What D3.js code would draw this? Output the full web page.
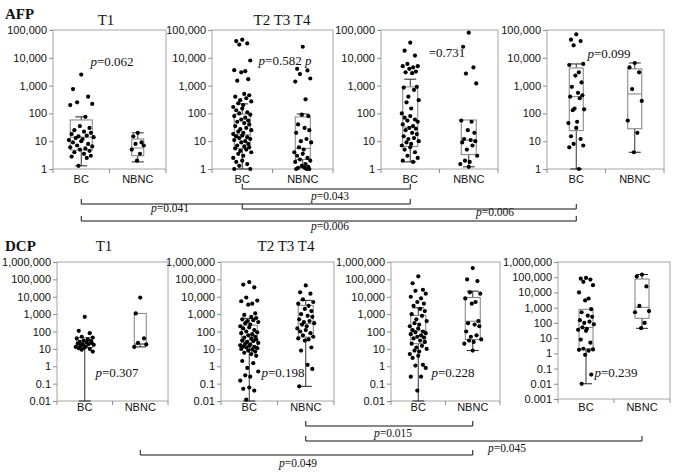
<!DOCTYPE html>
<html>
<head>
<meta charset="utf-8">
<script src="https://cdn.jsdelivr.net/npm/d3@7"></script>
<style>body{margin:0;background:#fff}</style>
</head>
<body>
<div id="chart"></div>
<script>
// ---- data ----
const groups = ["BC", "NBNC"];
const afpTicks = [1, 10, 100, 1000, 10000, 100000];
const dcpTicks = [0.01, 0.1, 1, 10, 100, 1000, 10000, 100000, 1000000];
const dcpTicks4 = [0.001, 0.01, 0.1, 1, 10, 100, 1000, 10000, 100000, 1000000];

// box stats: [whisker low, q1, median, q3, whisker high]
const afp1Points = [
  [2500, 750, 400, 250, 220, 200, 75, 35, 30, 25, 22, 20, 18, 16, 15, 14, 13, 12, 11, 10, 9, 8, 7, 6.5, 6, 5.5, 5, 4.5, 4, 3.5, 3, 2.8, 2.5, 1.3],
  [20, 15, 9, 8, 7, 5, 3.5, 2]
];
const afp1Box = [[1.3, 4.8, 14, 58, 75], [1.8, 3, 5.7, 12, 20]];

const afp2Points = [
  [45000, 40000, 33000, 30000, 8000, 3600, 3300, 3000, 1700, 1500, 500, 450, 400, 350, 300, 270, 230, 200, 170, 150, 130, 110, 100, 90, 80, 70, 60, 55, 50, 45, 40, 35, 30, 27, 25, 22, 20, 18, 16, 15, 14, 13, 12, 11, 10, 9, 8, 7, 6.5, 6, 5.5, 5, 4.5, 4, 3.5, 3, 2.5, 2, 1.8, 1.5, 1.3, 1, 1],
  [25000, 4000, 3500, 2600, 1800, 1400, 320, 90, 80, 40, 30, 25, 20, 12, 10, 9, 6, 5, 4, 3.5, 3, 2.5, 2.2, 2, 1.8, 1.5, 1.3, 1.2, 1.1, 1.1, 1, 1, 1]
];
const afp2Box = [[1, 5.5, 17, 95, 220], [1.1, 2.2, 5.5, 75, 95]];

const afp3Points = [
  [35000, 18000, 12000, 6000, 5000, 5000, 4500, 4000, 3200, 3000, 2800, 900, 850, 700, 400, 300, 250, 150, 100, 80, 70, 60, 55, 50, 40, 35, 30, 28, 25, 20, 18, 15, 13, 12, 10, 9, 8, 7, 6, 5, 4, 3, 2.5, 2, 1.8],
  [80000, 25000, 4500, 2700, 1200, 55, 50, 25, 20, 12, 11, 10, 9, 7, 5, 3, 2, 1.8, 1.5, 1.2]
];
const afp3Box = [[1.8, 6.5, 32, 900, 1700], [1.2, 3.3, 11, 58, 58]];

const afp4Points = [
  [70000, 45000, 40000, 28000, 6000, 5500, 3000, 2300, 1300, 900, 550, 450, 400, 350, 150, 140, 130, 50, 45, 30, 15, 12, 8, 7, 6, 1],
  [6500, 4500, 3000, 750, 280, 55, 20, 4]
];
const afp4Box = [[1, 24, 400, 4300, 6000], [4, 28, 500, 4000, 6500]];

const dcp1Points = [
  [700, 110, 80, 50, 45, 40, 35, 30, 28, 25, 24, 22, 20, 19, 18, 17, 15, 14, 13, 12, 11, 10, 9, 7],
  [9000, 1100, 40, 22, 18, 13]
];
const dcp1Box = [[0.01, 12, 21, 45, 45], [13, 18, 20, 1100, 1100]];

const dcp2Points = [
  [70000, 50000, 35000, 9000, 6000, 5500, 4000, 3500, 1100, 900, 700, 600, 500, 450, 400, 350, 300, 250, 200, 170, 150, 120, 100, 90, 80, 70, 60, 50, 45, 40, 35, 30, 28, 25, 22, 20, 18, 16, 15, 14, 13, 12, 11, 10, 9, 8, 7, 6, 5, 4, 2, 1.5, 0.8, 0.5, 0.3, 0.25, 0.15, 0.06, 0.05, 0.04, 0.012],
  [45000, 18000, 15000, 7000, 5000, 4000, 3000, 2000, 1500, 1000, 800, 700, 500, 400, 350, 300, 250, 200, 150, 120, 100, 80, 60, 50, 40, 35, 30, 12, 8, 1.2, 0.7, 0.07]
];
const dcp2Box = [[0.01, 13, 31, 230, 570], [0.07, 48, 280, 3200, 6200]];

const dcp3Points = [
  [150000, 60000, 25000, 22000, 15000, 10000, 8000, 5000, 4000, 3000, 2000, 1500, 1000, 800, 500, 400, 300, 250, 200, 150, 120, 100, 90, 80, 70, 60, 50, 45, 40, 30, 25, 20, 15, 12, 10, 8, 7, 5, 4, 3, 1.2, 1.1, 0.8, 0.25, 0.25, 0.04],
  [450000, 100000, 80000, 18000, 15000, 8000, 5000, 4000, 400, 300, 250, 200, 100, 60, 50, 35, 30, 25, 20, 8]
];
const dcp3Box = [[0.01, 20, 110, 850, 2300], [8, 35, 390, 9000, 21000]];

const dcp4Points = [
  [90000, 80000, 70000, 50000, 30000, 10000, 4000, 3000, 800, 500, 300, 250, 150, 120, 100, 80, 50, 40, 35, 30, 8, 5, 2, 1.8, 1.7, 1.5, 0.8, 0.04, 0.01],
  [150000, 110000, 25000, 1300, 600, 500, 100, 45]
];
const dcp4Box = [[0.01, 2, 50, 780, 780], [44, 200, 1050, 76000, 150000]];

const afpPanelP = ["p=0.062", "p=0.582 p", "=0.731", "p=0.099"];
const dcpPanelP = ["p=0.307", "p=0.198", "p=0.228", "p=0.239"];
const afpPairP = ["p=0.043", "p=0.041", "p=0.006", "p=0.006"];
const dcpPairP = ["p=0.015", "p=0.045", "p=0.049"];

// ---- layout ----
const W = 677, H = 475;
const serif = "'Liberation Serif','Times New Roman',serif";
const sans = "'Liberation Sans',Arial,sans-serif";
const svg = d3.select("#chart").append("svg").attr("width", W).attr("height", H);

const jitter = [0, -6, 5, -3, 8, -8, 3, -1, 6, -5, 2, 7, -7, 4, -2, 9, -4, 1, -9];

const afpLayout = [
  {x0: 53, x1: 166, y0: 169, y1: 30, bw: [22, 12], px: 112, py: 66},
  {x0: 212, x1: 333, y0: 169, y1: 30, bw: [16, 15], px: 285, py: 65},
  {x0: 381, x1: 498, y0: 169, y1: 30, bw: [15, 15], px: 447, py: 57},
  {x0: 547, x1: 664, y0: 169, y1: 30, bw: [14, 14], px: 609, py: 58}
];
const dcpLayout = [
  {x0: 57, x1: 168, y0: 401, y1: 262, bw: [16, 12], px: 117, py: 377},
  {x0: 221, x1: 334, y0: 401, y1: 262, bw: [16, 15], px: 283, py: 377},
  {x0: 391, x1: 500, y0: 401, y1: 262, bw: [15, 15], px: 453, py: 377},
  {x0: 558, x1: 670, y0: 399, y1: 262, bw: [14, 14], px: 616, py: 377}
];

function pText(sel, s) {
  if (s.startsWith("p")) {
    sel.append("tspan").style("font-style", "italic").text("p");
    s = s.slice(1);
  }
  const i = s.indexOf(" p");
  if (i >= 0) {
    sel.append("tspan").text(s.slice(0, i + 1));
    sel.append("tspan").style("font-style", "italic").text("p");
  } else {
    sel.append("tspan").text(s);
  }
}

function panel(cfg, points, boxes, ticks, pLabel, labelY) {
  const x = d3.scalePoint().domain(groups).range([cfg.x0, cfg.x1]).padding(0.5);
  const y = d3.scaleLog().domain([ticks[0], ticks[ticks.length - 1]]).range([cfg.y0, cfg.y1]);
  const g = svg.append("g");

  g.append("rect")
    .attr("x", cfg.x0).attr("y", cfg.y1)
    .attr("width", cfg.x1 - cfg.x0).attr("height", cfg.y0 - cfg.y1)
    .attr("fill", "none").attr("stroke", "#a6a6a6");

  // y axis
  g.append("g")
    .attr("transform", "translate(" + cfg.x0 + ",0)")
    .call(d3.axisLeft(y).tickValues(ticks).tickFormat(d3.format(",")).tickSize(4).tickPadding(2))
    .call(a => a.select(".domain").remove())
    .call(a => a.selectAll("line").attr("stroke", "#8c8c8c"))
    .call(a => a.selectAll("text").attr("font-family", sans).attr("font-size", 11).attr("fill", "#111"));

  // x axis: divider ticks + category labels
  const mid = (cfg.x0 + cfg.x1) / 2;
  g.selectAll(".xt").data([cfg.x0, mid, cfg.x1]).enter().append("line")
    .attr("x1", d => d).attr("x2", d => d)
    .attr("y1", cfg.y0).attr("y2", cfg.y0 + 4)
    .attr("stroke", "#8c8c8c");
  g.selectAll(".xl").data(groups).enter().append("text")
    .attr("x", d => x(d)).attr("y", labelY)
    .attr("text-anchor", "middle")
    .attr("font-family", sans).attr("font-size", 11).attr("fill", "#111")
    .text(d => d);

  groups.forEach((grp, gi) => {
    const cx = x(grp);
    const [lo, q1, med, q3, hi] = boxes[gi];
    const bw = cfg.bw[gi];
    // whiskers
    if (hi > q3) {
      g.append("line").attr("x1", cx).attr("x2", cx).attr("y1", y(q3)).attr("y2", y(hi)).attr("stroke", "#333");
      g.append("line").attr("x1", cx - 6).attr("x2", cx + 6).attr("y1", y(hi)).attr("y2", y(hi)).attr("stroke", "#222");
    }
    if (lo < q1) {
      g.append("line").attr("x1", cx).attr("x2", cx).attr("y1", y(q1)).attr("y2", y(lo)).attr("stroke", "#333");
      g.append("line").attr("x1", cx - 6).attr("x2", cx + 6).attr("y1", y(lo)).attr("y2", y(lo)).attr("stroke", "#222");
    }
    // box
    g.append("rect")
      .attr("x", cx - bw / 2).attr("y", y(q3))
      .attr("width", bw).attr("height", y(q1) - y(q3))
      .attr("fill", "none").attr("stroke", "#7f7f7f");
    g.append("line")
      .attr("x1", cx - bw / 2).attr("x2", cx + bw / 2)
      .attr("y1", y(med)).attr("y2", y(med))
      .attr("stroke", "#7f7f7f");
    // points
    g.selectAll(".pt" + gi).data(points[gi]).enter().append("circle")
      .attr("cx", (d, i) => cx + jitter[i % jitter.length] * (bw / 16))
      .attr("cy", d => y(d))
      .attr("r", 2.1)
      .attr("fill", "#000");
  });

  g.append("text")
    .attr("x", cfg.px).attr("y", cfg.py)
    .attr("text-anchor", "middle")
    .attr("font-family", serif).attr("font-size", 13).attr("fill", "#111")
    .call(t => pText(t, pLabel));

  return x;
}

const afpX = afpLayout.map((c, i) =>
  panel(c, [afp1Points, afp2Points, afp3Points, afp4Points][i],
        [afp1Box, afp2Box, afp3Box, afp4Box][i], afpTicks, afpPanelP[i], 183));
const dcpX = dcpLayout.map((c, i) =>
  panel(c, [dcp1Points, dcp2Points, dcp3Points, dcp4Points][i],
        [dcp1Box, dcp2Box, dcp3Box, dcp4Box][i], i === 3 ? dcpTicks4 : dcpTicks, dcpPanelP[i], 411));

// titles
function title(txt, x, y, bold, anchor) {
  svg.append("text").attr("x", x).attr("y", y)
    .attr("text-anchor", anchor || "start")
    .attr("font-family", serif).attr("font-size", 15)
    .attr("font-weight", bold ? "bold" : "normal").attr("fill", "#111")
    .text(txt);
}
title("AFP", 5, 19, true);
title("T1", 106, 25, false, "middle");
title("T2 T3 T4", 282, 25, false, "middle");
title("DCP", 5, 251, true);
title("T1", 104, 251, false, "middle");
title("T2 T3 T4", 286, 251, false, "middle");

// comparison brackets
const afpBrackets = [
  {a: [1, "BC"], b: [2, "BC"], y: 189, lx: 330, ly: 200},
  {a: [0, "BC"], b: [2, "BC"], y: 204, lx: 170, ly: 212},
  {a: [1, "BC"], b: [3, "BC"], y: 209, lx: 495, ly: 216},
  {a: [0, "BC"], b: [3, "BC"], y: 221, lx: 330, ly: 230}
];
const dcpBrackets = [
  {a: [1, "NBNC"], b: [2, "NBNC"], y: 426, lx: 393, ly: 437},
  {a: [1, "NBNC"], b: [3, "NBNC"], y: 441, lx: 507, ly: 452},
  {a: [0, "NBNC"], b: [2, "NBNC"], y: 455, lx: 298, ly: 467}
];

function brackets(list, scales, labels) {
  list.forEach((br, i) => {
    const xa = scales[br.a[0]](br.a[1]);
    const xb = scales[br.b[0]](br.b[1]);
    svg.append("path")
      .attr("d", `M${xa},${br.y - 5}V${br.y}H${xb}V${br.y - 5}`)
      .attr("fill", "none").attr("stroke", "#111").attr("stroke-width", 1);
    svg.append("text")
      .attr("x", br.lx).attr("y", br.ly)
      .attr("text-anchor", "middle")
      .attr("font-family", serif).attr("font-size", 11.5).attr("fill", "#111")
      .call(t => pText(t, labels[i]));
  });
}
brackets(afpBrackets, afpX, afpPairP);
brackets(dcpBrackets, dcpX, dcpPairP);
</script>
</body>
</html>
